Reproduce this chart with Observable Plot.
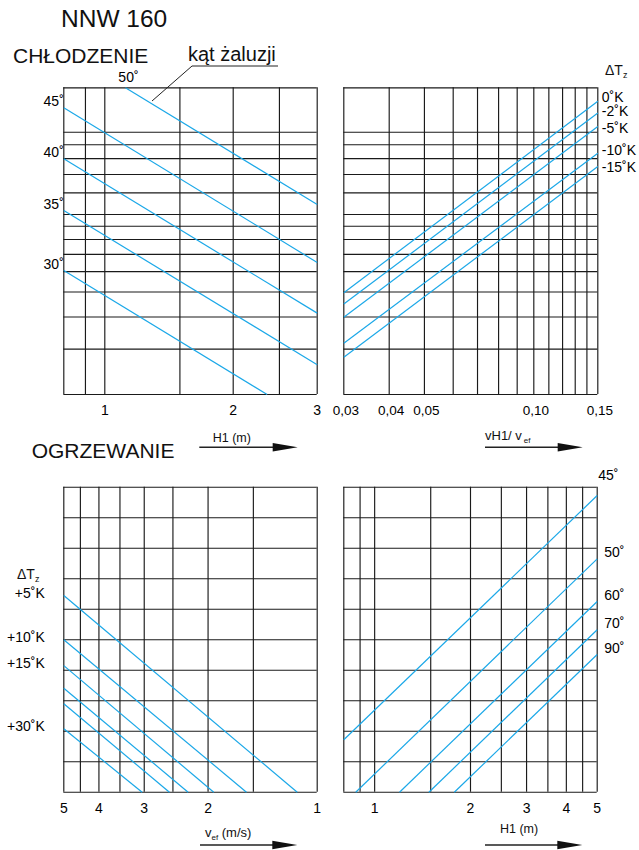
<!DOCTYPE html>
<html>
<head>
<meta charset="utf-8">
<script src="https://cdn.jsdelivr.net/npm/d3@7"></script>
<script src="https://cdn.jsdelivr.net/npm/@observablehq/plot@0.6"></script>
<style>
  body { margin: 0; background: #fff; }
  #chart { position: relative; width: 639px; height: 850px; background: #fff; }
  #chart > svg { position: absolute; }
</style>
</head>
<body>
<div id="chart"></div>
<script>
// ---------- shared vertical grid of the cooling nomogram (log scale) ----------
const coolGridY = [0.2, 0.3, 0.4, 0.5, 0.6, 0.7, 0.8, 0.9, 1, 1.2, 1.4, 1.6, 1.8, 2, 3];

// ---------- cooling, left: H1 (m) against blade angle ----------
const coolGridH1 = [0.8, 0.9, 1, 1.5, 2, 2.5, 3];
const coolTicksH1 = [1, 2, 3];
const coolAngles   = ["50˚", "45˚", "40˚", "35˚", "30˚"];
const coolH1Start  = [1.118, 0.8, 0.8, 0.8, 0.8];
const coolYStart   = [3, 2.50, 1.598, 1.034, 0.606];
const coolH1End    = [3, 3, 3, 3, 2.356];
const coolYEnd     = [1.088, 0.651, 0.414, 0.261, 0.2];

// ---------- cooling, right: vH1 / vef against ΔTz ----------
const ratioGrid  = [0.03, 0.04, 0.05, 0.06, 0.07, 0.08, 0.09, 0.10, 0.11, 0.12, 0.13, 0.14, 0.15];
const ratioTicks = [0.03, 0.04, 0.05, 0.10, 0.15];
const coolDeltaT = ["0˚K", "-2˚K", "-5˚K", "-10˚K", "-15˚K"];
const coolRatioStart = [0.03, 0.03, 0.03, 0.03, 0.03];
const coolDtYStart   = [0.497, 0.449, 0.399, 0.316, 0.279];
const coolRatioEnd   = [0.15, 0.15, 0.15, 0.15, 0.15];
const coolDtYEnd     = [2.655, 2.383, 2.107, 1.676, 1.498];

// ---------- heating: shared vertical grid (linear) ----------
const heatGridY = [0, 1, 2, 3, 4, 5, 6, 7, 8, 9, 10];

// ---------- heating, left: vef (m/s) against ΔTz ----------
const vefGrid  = [1, 1.5, 2, 2.5, 3, 3.5, 4, 4.5, 5];
const vefTicks = [1, 2, 3, 4, 5];
const heatDeltaT    = [5, 10, 15, 20, 25, 30];
const heatLabelled  = [5, 10, 15, 30];
const heatVefStart  = [5, 5, 5, 5, 5, 5];
const heatYStart    = [6.45, 5.0, 4.15, 3.41, 2.90, 2.08];
const heatVefEnd    = [1.135, 1.567, 1.929, 2.27, 2.556, 3.04];
const heatYEnd      = [0, 0, 0, 0, 0, 0];

// ---------- heating, right: H1 (m) against blade angle ----------
const heatGridH1  = [0.8, 0.9, 1, 1.5, 2, 2.5, 3, 3.5, 4, 4.5, 5];
const heatTicksH1 = [1, 2, 3, 4, 5];
const heatAngles  = ["45˚", "50˚", "60˚", "70˚", "90˚"];
const heatH1Start = [0.8, 0.872, 1.197, 1.48, 1.779];
const heatAYStart = [1.718, 0, 0, 0, 0];
const heatH1End   = [5, 5, 5, 5, 5];
const heatAYEnd   = [9.728, 7.652, 6.252, 5.325, 4.515];

// ---------- styling ----------
const FONT = "'Liberation Sans', Arial, Helvetica, sans-serif";
const ink = "#1a1a1a";
const blue = "#1ba8e8";
const gridW = 1.15;
const svgStyle = `font-family: ${FONT}; background: transparent; overflow: visible; max-width: none;`;
// vertical nudges (px) that keep the stacked ΔTz labels apart
const dtLabelNudge = [-4, -1, 2, -3, 1];

const segs = (labels, x1, y1, x2, y2) =>
  labels.map((label, i) => ({label, x1: x1[i], y1: y1[i], x2: x2[i], y2: y2[i]}));

const coolLines  = segs(coolAngles, coolH1Start, coolYStart, coolH1End, coolYEnd);
const dtLines    = segs(coolDeltaT, coolRatioStart, coolDtYStart, coolRatioEnd, coolDtYEnd);
const heatLines  = segs(heatDeltaT, heatVefStart, heatYStart, heatVefEnd, heatYEnd);
const angleLines = segs(heatAngles, heatH1Start, heatAYStart, heatH1End, heatAYEnd);

// cooling panels share one y scale
const coolY = {type: "log", domain: [0.2, 1, 2, 3], range: [394, 214, 131.7, 87.3], axis: null};
const heatY = {type: "linear", domain: [0, 10], axis: null};

const chart = document.getElementById("chart");
function place(svg, left, top) {
  svg.style.left = left + "px";
  svg.style.top = top + "px";
  chart.appendChild(svg);
}

// cooling – H1
place(Plot.plot({
  width: 330, height: 460,
  marginLeft: 63.3, marginRight: 13.3, marginTop: 87.3, marginBottom: 66,
  style: svgStyle,
  x: {type: "log", domain: [0.8, 1, 2, 3], range: [63.3, 104.3, 232.7, 316.7], axis: null},
  y: coolY,
  marks: [
    Plot.ruleX(coolGridH1, {x: d => d, y1: 0.2, y2: 3, stroke: ink, strokeWidth: gridW}),
    Plot.ruleY(coolGridY, {y: d => d, x1: 0.8, x2: 3, stroke: ink, strokeWidth: gridW}),
    Plot.link(coolLines, {x1: "x1", y1: "y1", x2: "x2", y2: "y2", stroke: blue, strokeWidth: 1.2}),
    Plot.text(coolLines.slice(0, 1), {x: "x1", y: "y1", text: "label", dx: 3, dy: -10, fontSize: 14}),
    Plot.text(coolLines.slice(1), {x: "x1", y: "y1", text: "label", textAnchor: "end", dx: 0, dy: -6, fontSize: 14}),
    Plot.text(coolTicksH1, {x: d => d, y: 0.2, dy: 16, text: d => String(d), fontSize: 14})
  ]
}), 0, 0);

// cooling – vH1 / vef
place(Plot.plot({
  width: 309, height: 460,
  marginLeft: 13.3, marginRight: 41.7, marginTop: 87.3, marginBottom: 66,
  style: svgStyle,
  x: {type: "log", domain: [0.03, 0.15], axis: null},
  y: coolY,
  marks: [
    Plot.ruleX(ratioGrid, {x: d => d, y1: 0.2, y2: 3, stroke: ink, strokeWidth: gridW}),
    Plot.ruleY(coolGridY, {y: d => d, x1: 0.03, x2: 0.15, stroke: ink, strokeWidth: gridW}),
    Plot.link(dtLines, {x1: "x1", y1: "y1", x2: "x2", y2: "y2", stroke: blue, strokeWidth: 1.2}),
    ...dtLines.map((d, i) => Plot.text([d], {
      x: "x2", y: "y2", text: "label", textAnchor: "start", dx: 4, dy: dtLabelNudge[i], fontSize: 14
    })),
    Plot.text(ratioTicks, {x: d => d, y: 0.2, dy: 16, dx: 2, text: d => d.toFixed(2).replace(".", ","), fontSize: 13.5})
  ]
}), 330, 0);

// heating – vef
place(Plot.plot({
  width: 330, height: 390,
  marginLeft: 63.3, marginRight: 13.3, marginTop: 26.7, marginBottom: 58.3,
  style: svgStyle,
  x: {type: "log", domain: [1, 5], reverse: true, axis: null},
  y: heatY,
  marks: [
    Plot.ruleX(vefGrid, {x: d => d, y1: 0, y2: 10, stroke: ink, strokeWidth: gridW}),
    Plot.ruleY(heatGridY, {y: d => d, x1: 1, x2: 5, stroke: ink, strokeWidth: gridW}),
    Plot.link(heatLines, {x1: "x1", y1: "y1", x2: "x2", y2: "y2", stroke: blue, strokeWidth: 1.2}),
    Plot.text(heatLines.filter(d => heatLabelled.includes(d.label)), {
      x: "x1", y: "y1", text: d => `+${d.label}˚K`, textAnchor: "end", dx: -19, dy: -2, fontSize: 14
    }),
    Plot.text(vefTicks, {x: d => d, y: 0, dy: 16, text: d => String(d), fontSize: 14})
  ]
}), 0, 460);

// heating – H1
place(Plot.plot({
  width: 309, height: 390,
  marginLeft: 13.3, marginRight: 42.3, marginTop: 26.7, marginBottom: 58.3,
  style: svgStyle,
  x: {type: "log", domain: [0.8, 5], axis: null},
  y: heatY,
  marks: [
    Plot.ruleX(heatGridH1, {x: d => d, y1: 0, y2: 10, stroke: ink, strokeWidth: gridW}),
    Plot.ruleY(heatGridY, {y: d => d, x1: 0.8, x2: 5, stroke: ink, strokeWidth: gridW}),
    Plot.link(angleLines, {x1: "x1", y1: "y1", x2: "x2", y2: "y2", stroke: blue, strokeWidth: 1.2}),
    Plot.text(angleLines.slice(0, 1), {x: "x2", y: "y2", text: "label", textAnchor: "start", dx: 1, dy: -20, fontSize: 14}),
    Plot.text(angleLines.slice(1), {x: "x2", y: "y2", text: "label", textAnchor: "start", dx: 7, dy: -6, fontSize: 14}),
    Plot.text(heatTicksH1, {x: d => d, y: 0, dy: 16, text: d => String(d), fontSize: 14})
  ]
}), 330, 460);

// ---------- titles, axis captions and direction arrows ----------
const svg = d3.create("svg")
  .attr("width", 639).attr("height", 850)
  .style("left", "0px").style("top", "0px")
  .style("pointer-events", "none")
  .style("font-family", FONT)
  .attr("fill", "#111");

function arrow(x1, x2, y) {
  svg.append("line").attr("x1", x1).attr("x2", x2 - 18).attr("y1", y).attr("y2", y)
    .attr("stroke", "#222").attr("stroke-width", 1.5);
  svg.append("path")
    .attr("d", `M${x2 - 25},${y - 4.3} L${x2},${y} L${x2 - 25},${y + 4.3} Z`)
    .attr("fill", "#111");
}
function deltaHeading(x, y) {
  const t = svg.append("text").attr("x", x).attr("y", y).attr("font-size", 14);
  t.append("tspan").text("ΔT");
  t.append("tspan").text("z").attr("font-size", 9).attr("dy", 3);
}

svg.append("text").attr("x", 61).attr("y", 26.7).attr("font-size", 24.5).text("NNW 160");
svg.append("text").attr("x", 13).attr("y", 63.3).attr("font-size", 21).text("CHŁODZENIE");
svg.append("text").attr("x", 188).attr("y", 61).attr("font-size", 20).text("kąt żaluzji");
svg.append("path").attr("d", "M152,101 L192,66 L278,66")
  .attr("fill", "none").attr("stroke", "#222").attr("stroke-width", 1);

deltaHeading(605, 75);
deltaHeading(17, 579);

svg.append("text").attr("x", 31.7).attr("y", 458.3).attr("font-size", 21).text("OGRZEWANIE");

// axis captions
svg.append("text").attr("x", 212.7).attr("y", 441.7).attr("font-size", 12.5).text("H1 (m)");
{
  const t = svg.append("text").attr("x", 485).attr("y", 440).attr("font-size", 13);
  t.append("tspan").text("vH1/ v");
  t.append("tspan").text("ef").attr("font-size", 8).attr("dx", 2).attr("dy", 3);
}
{
  const t = svg.append("text").attr("x", 205).attr("y", 836.7).attr("font-size", 13);
  t.append("tspan").text("v");
  t.append("tspan").text("ef").attr("font-size", 8).attr("dy", 3);
  t.append("tspan").text(" (m/s)").attr("dy", -3);
}
svg.append("text").attr("x", 500).attr("y", 833.3).attr("font-size", 12.5).text("H1 (m)");

arrow(199.3, 297.7, 447.3);
arrow(485, 582.7, 447.3);
arrow(200, 297.3, 845);
arrow(485, 582.3, 845);

chart.appendChild(svg.node());
</script>
</body>
</html>
